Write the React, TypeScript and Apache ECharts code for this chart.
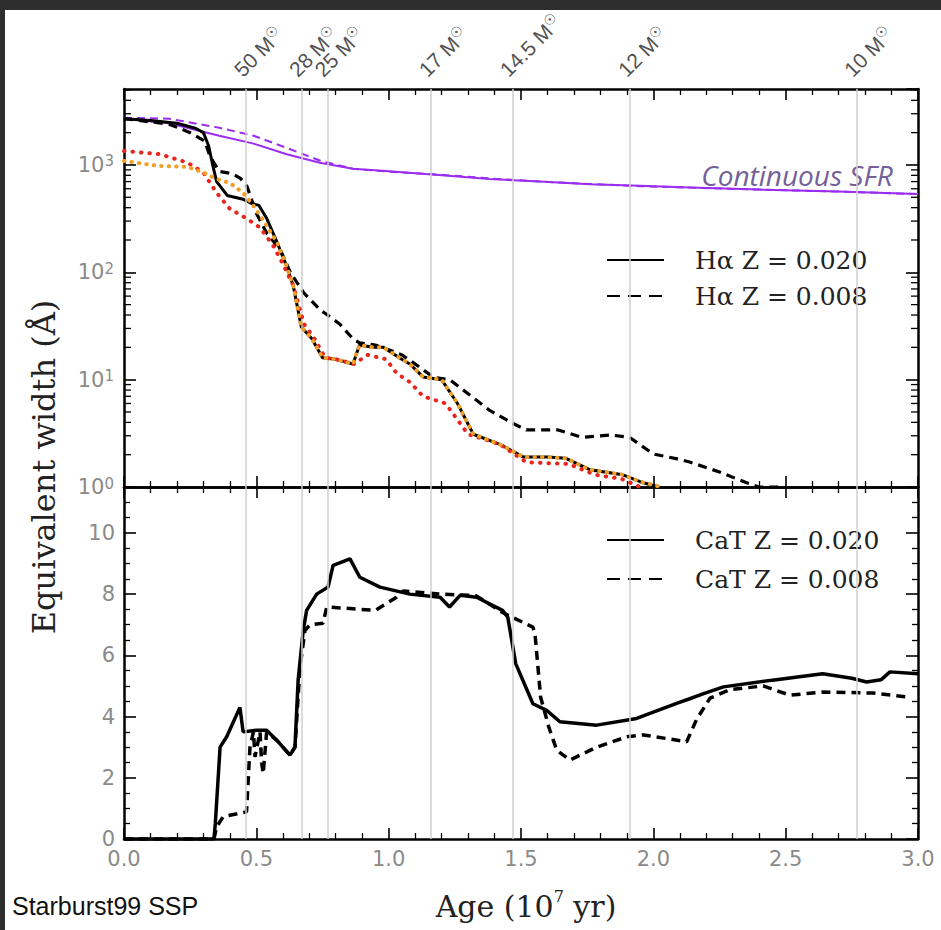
import React, { useEffect, useRef } from 'react';
import * as echarts from 'echarts';

// ---------- data ----------
const haSolarAge = [0, 0.1, 0.2, 0.27, 0.3, 0.32, 0.335, 0.35, 0.39, 0.45, 0.48, 0.51, 0.54, 0.58, 0.615, 0.64, 0.67, 0.71, 0.75, 0.8, 0.865, 0.89, 0.94, 0.98, 1.04, 1.08, 1.13, 1.2, 1.26, 1.32, 1.42, 1.51, 1.6, 1.67, 1.76, 1.885, 1.95, 2.02];
const haSolarEW = [2700, 2600, 2450, 2200, 2000, 1500, 1000, 700, 520, 480, 440, 420, 315, 186, 113, 74, 31, 24, 16, 15.5, 14, 21, 20, 20, 16, 14, 10.6, 10, 6, 3.1, 2.5, 1.9, 1.9, 1.85, 1.45, 1.3, 1.12, 1.0];

const haLowZAge = [0, 0.17, 0.25, 0.305, 0.325, 0.36, 0.41, 0.44, 0.465, 0.5, 0.54, 0.59, 0.63, 0.68, 0.74, 0.815, 0.865, 0.89, 0.95, 1.0, 1.05, 1.1, 1.17, 1.23, 1.3, 1.38, 1.47, 1.52, 1.64, 1.73, 1.84, 1.91, 2.0, 2.09, 2.14, 2.25, 2.35, 2.4, 2.48];
const haLowZEW = [2700, 2400, 2000, 1670, 1200, 870, 830, 750, 630, 355, 230, 163, 98, 64, 45, 33, 24, 22, 21, 19, 17, 14, 10.5, 10, 7.4, 5.2, 3.9, 3.4, 3.4, 2.9, 3.05, 2.9, 2.03, 1.83, 1.7, 1.38, 1.1, 1.0, 1.0];

const redDotAge = [0, 0.135, 0.24, 0.3, 0.35, 0.4, 0.465, 0.515, 0.565, 0.6, 0.64, 0.68, 0.72, 0.76, 0.8, 0.87, 0.92, 0.99, 1.03, 1.08, 1.13, 1.215, 1.3, 1.42, 1.52, 1.68, 1.78, 1.88, 1.95];
const redDotEW = [1350, 1260, 1050, 850, 550, 390, 315, 260, 175, 120, 75, 33, 24, 16, 15.5, 14, 17, 15.5, 11.5, 9.5, 7, 6, 3.1, 2.5, 1.7, 1.64, 1.3, 1.19, 1.0];

const orangeDotAge = [0, 0.13, 0.24, 0.3, 0.35, 0.4, 0.45, 0.49, 0.54, 0.58, 0.615, 0.64, 0.67, 0.71, 0.75, 0.8, 0.865, 0.89, 0.94, 0.98, 1.04, 1.08, 1.13, 1.2, 1.26, 1.32, 1.42, 1.51, 1.6, 1.67, 1.76, 1.885, 1.95, 2.03];
const orangeDotEW = [1090, 980, 960, 850, 740, 680, 550, 415, 270, 186, 113, 74, 31, 24, 16, 15.5, 14, 21, 20, 20, 16, 14, 10.6, 10, 6, 3.1, 2.5, 1.9, 1.9, 1.85, 1.45, 1.3, 1.12, 1.0];

const sfrAge = [0, 0.17, 0.36, 0.49, 0.615, 0.74, 0.865, 0.99, 1.2, 1.38, 1.57, 1.76, 1.95, 2.14, 2.4, 2.7, 3.0];
const sfrSolarEW = [2700, 2450, 1870, 1580, 1260, 1050, 920, 880, 800, 740, 700, 660, 640, 615, 590, 565, 535];
const sfrLowZEW = [2750, 2700, 2220, 1870, 1440, 1100, 920, 870, 810, 750, 700, 665, 635, 615, 590, 565, 535];

const catSolarAge = [0, 0.34, 0.345, 0.363, 0.388, 0.438, 0.45, 0.5, 0.539, 0.577, 0.627, 0.646, 0.658, 0.677, 0.69, 0.728, 0.771, 0.79, 0.854, 0.891, 0.967, 1.08, 1.194, 1.23, 1.27, 1.332, 1.43, 1.45, 1.48, 1.545, 1.597, 1.647, 1.786, 1.937, 2.088, 2.14, 2.19, 2.265, 2.45, 2.64, 2.75, 2.806, 2.86, 2.894, 3.0];
const catSolarEW = [0, 0, 0.5, 3.0, 3.34, 4.3, 3.5, 3.55, 3.55, 3.23, 2.74, 3.0, 5.2, 6.8, 7.47, 8.0, 8.23, 8.94, 9.15, 8.55, 8.23, 8.0, 7.9, 7.58, 7.96, 7.9, 7.47, 7.25, 5.73, 4.42, 4.2, 3.83, 3.72, 3.94, 4.43, 4.59, 4.75, 4.97, 5.19, 5.4, 5.25, 5.13, 5.2, 5.46, 5.4];

const catLowZAge = [0, 0.34, 0.35, 0.375, 0.463, 0.476, 0.489, 0.495, 0.514, 0.52, 0.526, 0.539, 0.577, 0.627, 0.646, 0.665, 0.684, 0.703, 0.752, 0.766, 0.866, 0.95, 1.03, 1.055, 1.2, 1.33, 1.43, 1.545, 1.553, 1.574, 1.605, 1.635, 1.685, 1.786, 1.9, 1.962, 2.126, 2.163, 2.214, 2.29, 2.415, 2.516, 2.64, 2.83, 2.957];
const catLowZEW = [0, 0, 0.4, 0.73, 0.89, 3.0, 3.5, 2.68, 3.5, 2.5, 2.14, 3.5, 3.23, 2.74, 3.0, 5.62, 6.82, 7.0, 7.05, 7.58, 7.52, 7.47, 7.9, 8.1, 8.0, 7.95, 7.4, 6.92, 6.7, 4.64, 3.66, 2.9, 2.58, 3.0, 3.34, 3.4, 3.18, 3.9, 4.6, 4.88, 5.0, 4.7, 4.8, 4.77, 4.64];

const massAges = [0.4635, 0.671, 0.768, 1.162, 1.468, 1.914, 2.768];
const massLabels = ['50', '28', '25', '17', '14.5', '12', '10'];

const logMinorTicks = [2, 3, 4, 5, 6, 7, 8, 9, 20, 30, 40, 50, 60, 70, 80, 90, 200, 300, 400, 500, 600, 700, 800, 900, 2000, 3000, 4000, 5000];

const legendTop = ['Hα Z = 0.020', 'Hα Z = 0.008'];
const legendBottom = ['CaT Z = 0.020', 'CaT Z = 0.008'];

const EW_MAX = 5100;
const CAT_MAX = 11.5;

const zip = (a: number[], b: number[]) => a.map((x, i) => [x, b[i]]);

export default function App() {
  const ref = useRef<HTMLDivElement>(null);
  useEffect(() => {
    const chart = echarts.init(ref.current!, null, { renderer: 'svg' });
    const frameLine = { show: true, onZero: false, lineStyle: { color: '#000', width: 2.5 } };
    const majorTick = { show: true, inside: true, length: 11, lineStyle: { color: '#000', width: 1.6 } };
    const xMinor = { show: true, splitNumber: 5, length: 6, lineStyle: { color: '#000', width: 1.3 } };
    const labelColor = '#8a8a8a';
    const labelFont = 'DejaVu Sans';
    const xBase = {
      type: 'value', min: 0, max: 3, interval: 0.5,
      axisLine: frameLine, axisTick: majorTick, minorTick: xMinor,
      splitLine: { show: false }, axisLabel: { show: false },
    };
    const logBase = {
      type: 'log', logBase: 10, min: 1, max: EW_MAX, gridIndex: 0,
      axisLine: frameLine, axisTick: { ...majorTick, length: 12 }, minorTick: { show: false },
      splitLine: { show: false },
    };
    const catBase = {
      type: 'value', min: 0, max: CAT_MAX, interval: 2, gridIndex: 1,
      axisLine: frameLine, axisTick: { ...majorTick, length: 12 },
      minorTick: { show: true, splitNumber: 4, length: 6, lineStyle: { color: '#000', width: 1.3 } },
      splitLine: { show: false },
    };
    const gridLineStyle = { color: '#cfcfcf', width: 1.5, type: 'solid' };
    const legendText = { fontFamily: 'DejaVu Serif', fontSize: 25, color: '#222', lineHeight: 30, padding: [0, 0, 0, 26] };
    const hiddenSymbol = { color: 'transparent', borderColor: 'transparent', borderWidth: 0, opacity: 0 };

    const option: any = {
      animation: false,
      backgroundColor: '#2d2d2d',
      grid: [
        { left: 124, top: 89, width: 794, height: 398, outerBoundsMode: 'none' },
        { left: 124, top: 487, width: 794, height: 352, outerBoundsMode: 'none' },
      ],
      xAxis: [
        { ...xBase, gridIndex: 0, position: 'bottom' },
        { ...xBase, gridIndex: 0, position: 'top' },
        {
          ...xBase, gridIndex: 1, position: 'bottom',
          axisLabel: {
            show: true, margin: 10, color: labelColor, fontSize: 21, lineHeight: 20, fontFamily: labelFont,
            formatter: (v: number) => v.toFixed(1),
          },
        },
        { ...xBase, gridIndex: 1, position: 'top' },
      ],
      yAxis: [
        {
          ...logBase, position: 'left',
          axisLabel: {
            show: true, margin: 10, showMaxLabel: false,
            formatter: (v: number) => {
              const e = Math.log10(v);
              if (Math.abs(e - Math.round(e)) > 1e-6) return '';
              return '{b|10}{s|' + Math.round(e) + '}';
            },
            rich: {
              b: { fontSize: 21, color: labelColor, fontFamily: labelFont, lineHeight: 22, verticalAlign: 'middle' },
              s: { fontSize: 15, color: labelColor, fontFamily: labelFont, lineHeight: 12, verticalAlign: 'top' },
            },
          },
        },
        { ...logBase, position: 'right', axisLabel: { show: false } },
        {
          ...catBase, position: 'left',
          axisLabel: { show: true, margin: 9, showMaxLabel: false, color: labelColor, fontSize: 21, lineHeight: 18, fontFamily: labelFont },
        },
        { ...catBase, position: 'right', axisLabel: { show: false } },
      ],
      legend: [
        {
          data: [
            { name: legendTop[0], lineStyle: { width: 2 }, itemStyle: hiddenSymbol },
            { name: legendTop[1], lineStyle: { width: 2, type: [13, 8] }, itemStyle: hiddenSymbol },
          ],
          orient: 'vertical', left: 601, top: 240, itemWidth: 57, itemHeight: 14, itemGap: 6,
          selectedMode: false, itemStyle: hiddenSymbol,
          textStyle: legendText,
        },
        {
          data: [
            { name: legendBottom[0], lineStyle: { width: 2 }, itemStyle: hiddenSymbol },
            { name: legendBottom[1], lineStyle: { width: 2, type: [13, 8] }, itemStyle: hiddenSymbol },
          ],
          orient: 'vertical', left: 601, top: 520, itemWidth: 57, itemHeight: 14, itemGap: 9,
          selectedMode: false, itemStyle: hiddenSymbol,
          textStyle: legendText,
        },
      ],
      graphic: [
        { type: 'rect', shape: { x: 5, y: 10, width: 936, height: 920 }, style: { fill: '#ffffff' }, z: -100, silent: true },
        {
          type: 'text', x: 44, y: 467, rotation: Math.PI / 2,
          style: { text: 'Equivalent width (Å)', fontFamily: 'DejaVu Serif', fontSize: 32, fill: '#222', align: 'center', verticalAlign: 'middle' },
        },
        {
          type: 'text', x: 526, y: 906,
          style: {
            text: '{a|Age (10}{s|7}{a| yr)}', align: 'center', verticalAlign: 'middle',
            rich: {
              a: { fontFamily: 'DejaVu Serif', fontSize: 30, fill: '#222', lineHeight: 36, verticalAlign: 'middle' },
              s: { fontFamily: 'DejaVu Serif', fontSize: 16, fill: '#222', lineHeight: 14, verticalAlign: 'top' },
            },
          },
        },
        {
          type: 'text', x: 12, y: 906,
          style: { text: 'Starburst99 SSP', fontFamily: 'Liberation Sans', fontSize: 25, fill: '#111', align: 'left', verticalAlign: 'middle' },
        },
        {
          type: 'text', x: 797, y: 175,
          style: { text: 'Continuous SFR', fontFamily: 'Open Sans', fontStyle: 'italic', fontSize: 28, fill: '#74609a', align: 'center', verticalAlign: 'middle' },
        },
      ],
      series: [
        {
          type: 'scatter', name: 'mass', xAxisIndex: 0, yAxisIndex: 0, z: 1, clip: false, silent: true,
          symbolSize: 0,
          data: massAges.map((a) => [a, EW_MAX]),
          label: {
            show: true, position: [-9, -16], rotate: 45, align: 'left', verticalAlign: 'middle',
            formatter: (p: any) => '{n|' + massLabels[p.dataIndex] + ' M}{s|☉}',
            rich: {
              n: { fontSize: 21, color: '#222', fontFamily: 'Liberation Sans', lineHeight: 24, verticalAlign: 'middle' },
              s: { fontSize: 14, color: '#222', fontFamily: 'DejaVu Sans', lineHeight: 12, verticalAlign: 'top' },
            },
          },
          markLine: {
            silent: true, symbol: 'none', label: { show: false }, lineStyle: gridLineStyle,
            data: massAges.map((a) => ({ xAxis: a })),
          },
        },
        {
          type: 'scatter', name: 'massB', xAxisIndex: 2, yAxisIndex: 2, z: 1, clip: false, silent: true,
          symbolSize: 0,
          data: massAges.map((a) => [a, 0]),
          markLine: {
            silent: true, symbol: 'none', label: { show: false }, lineStyle: gridLineStyle,
            data: massAges.map((a) => ({ xAxis: a })),
          },
        },
        {
          type: 'custom', name: 'logMinor', xAxisIndex: 0, yAxisIndex: 0, z: 10, silent: true,
          data: logMinorTicks.map((v) => [0, v]),
          renderItem: (params: any, api: any) => {
            const cs = params.coordSys;
            const y = api.coord([0, api.value(1)])[1];
            return {
              type: 'group',
              children: [
                { type: 'line', shape: { x1: cs.x, y1: y, x2: cs.x + 7, y2: y }, style: { stroke: '#000', lineWidth: 1.3 } },
                { type: 'line', shape: { x1: cs.x + cs.width - 7, y1: y, x2: cs.x + cs.width, y2: y }, style: { stroke: '#000', lineWidth: 1.3 } },
              ],
            };
          },
        },
        {
          type: 'line', name: 'Continuous SFR Z = 0.008', xAxisIndex: 0, yAxisIndex: 0, symbol: 'none', z: 3,
          data: zip(sfrAge, sfrLowZEW), lineStyle: { color: '#9a2df0', width: 2, type: [8, 5] },
        },
        {
          type: 'line', name: 'Continuous SFR Z = 0.020', xAxisIndex: 0, yAxisIndex: 0, symbol: 'none', z: 3,
          data: zip(sfrAge, sfrSolarEW), lineStyle: { color: '#9a2df0', width: 2 },
        },
        {
          type: 'line', name: legendTop[1], xAxisIndex: 0, yAxisIndex: 0, symbol: 'none', z: 4,
          data: zip(haLowZAge, haLowZEW), lineStyle: { color: '#000', width: 3.2, type: [9, 6] }, itemStyle: { color: '#000' },
        },
        {
          type: 'line', name: legendTop[0], xAxisIndex: 0, yAxisIndex: 0, symbol: 'none', z: 4,
          data: zip(haSolarAge, haSolarEW), lineStyle: { color: '#000', width: 3 }, itemStyle: { color: '#000' },
        },
        {
          type: 'line', name: 'red dotted', xAxisIndex: 0, yAxisIndex: 0, symbol: 'none', z: 5,
          data: zip(redDotAge, redDotEW), lineStyle: { color: '#e8261e', width: 4, type: [0.5, 8], cap: 'round' },
        },
        {
          type: 'line', name: 'orange dotted', xAxisIndex: 0, yAxisIndex: 0, symbol: 'none', z: 6,
          data: zip(orangeDotAge, orangeDotEW), lineStyle: { color: '#f0a028', width: 4, type: [0.5, 7], cap: 'round' },
        },
        {
          type: 'line', name: legendBottom[1], xAxisIndex: 2, yAxisIndex: 2, symbol: 'none', z: 4,
          data: zip(catLowZAge, catLowZEW), lineStyle: { color: '#000', width: 3.5, type: [9, 6] }, itemStyle: { color: '#000' },
        },
        {
          type: 'line', name: legendBottom[0], xAxisIndex: 2, yAxisIndex: 2, symbol: 'none', z: 4,
          data: zip(catSolarAge, catSolarEW), lineStyle: { color: '#000', width: 3.5 }, itemStyle: { color: '#000' },
        },
      ],
    };
    chart.setOption(option);
    return () => chart.dispose();
  }, []);
  return (
    <div style={{ position: 'fixed', left: 0, top: 0, width: 941, height: 930, background: '#2d2d2d' }}>
      <div ref={ref} style={{ width: 941, height: 930 }} />
    </div>
  );
}
